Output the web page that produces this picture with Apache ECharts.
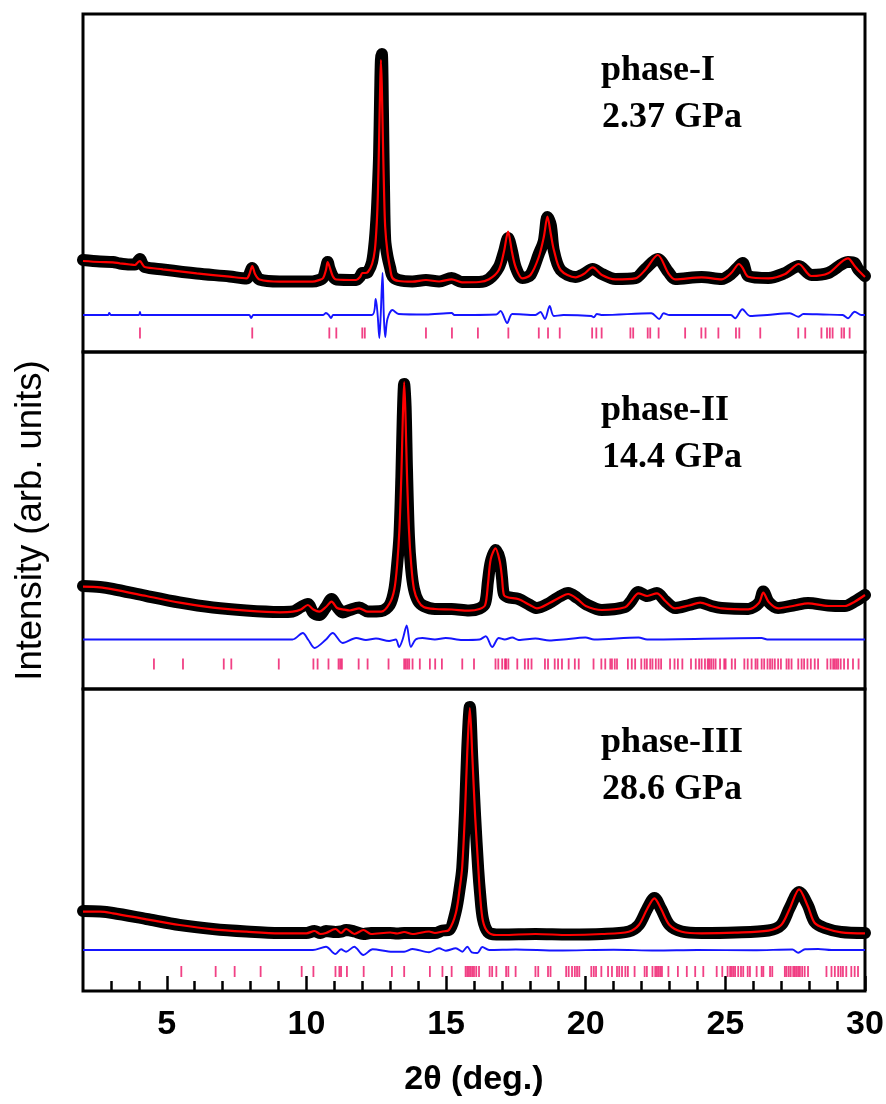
<!DOCTYPE html>
<html>
<head>
<meta charset="utf-8">
<title>Rietveld refinement at high pressure</title>
<script src="https://cdn.jsdelivr.net/npm/echarts@6/dist/echarts.min.js"></script>
<style>
  html, body { margin: 0; padding: 0; background: #fff; }
  #chart { width: 886px; height: 1104px; }
</style>
</head>
<body>
<div id="chart"></div>
<script>
// --- data ---------------------------------------------------------------
const twoThetaMin = 2
const twoThetaMax = 30
const xMajorTicks = [5, 10, 15, 20, 25, 30]
const xMinorTicks = [3, 4, 6, 7, 8, 9, 11, 12, 13, 14, 16, 17, 18, 19, 21, 22, 23, 24, 26, 27, 28, 29]

const phaseNames = ['phase-I', 'phase-II', 'phase-III']
const pressures = ['2.37 GPa', '14.4 GPa', '28.6 GPa']

// rows: [2θ, calculated, observed]  (arb. units)
const phase1Profile = [
  [2.0, 91, 92], [2.61, 90, 90.5], [3.07, 89.7, 90], [3.32, 88.7, 88.5], [3.68, 87.5, 87.5],
  [3.86, 87, 87.5], [3.96, 89.5, 90.5], [4.04, 91, 93], [4.12, 88, 88.5], [4.21, 85, 85],
  [4.86, 82.7, 82.5], [6.07, 78.7, 78.5], [7.25, 75.3, 75.5], [7.86, 73.7, 73.5], [7.96, 78, 78],
  [8.06, 86, 84], [8.16, 78, 78.5], [8.32, 72.5, 72.5], [9.04, 70.3, 70.5], [10.21, 70.3, 70.5],
  [10.46, 72, 72], [10.6, 74, 74.5], [10.7, 82, 84], [10.76, 90, 90], [10.82, 86, 84],
  [10.94, 76, 76], [11.07, 72.5, 72.5], [11.78, 72, 72], [11.92, 75, 75.5], [12.0, 79, 79],
  [12.1, 79, 79], [12.2, 80, 80], [12.35, 88, 90], [12.45, 102, 112], [12.52, 130, 140],
  [12.56, 160, 165], [12.6, 210, 195], [12.64, 265, 258], [12.667, 292, 292], [12.7, 265, 298],
  [12.74, 210, 240], [12.78, 160, 160], [12.82, 125, 112], [12.9, 100, 96], [13.0, 83, 84],
  [13.08, 74, 76], [13.3, 71, 72], [13.79, 70.3, 70.5], [14.28, 72, 72], [14.75, 70.5, 70.5],
  [15.2, 72.7, 74], [15.57, 69.7, 70], [16.18, 70, 70], [16.54, 72.7, 73], [16.89, 82, 85],
  [17.07, 100, 100], [17.22, 120.3, 114], [17.36, 100, 101], [17.49, 85, 85], [17.73, 73.7, 74],
  [18.02, 77, 77], [18.32, 95, 98], [18.5, 115, 111], [18.63, 135.3, 135], [18.75, 118, 127],
  [18.86, 102, 101], [19.1, 82, 82], [19.63, 74.7, 75], [19.93, 78, 78], [20.25, 84.7, 83],
  [20.58, 77, 78], [21.06, 72.7, 73], [21.78, 73.7, 74], [22.13, 82, 83], [22.58, 97, 93],
  [22.96, 78.7, 80], [23.2, 72.7, 73], [24.15, 74.7, 75], [24.87, 72.7, 73], [25.21, 79, 78],
  [25.49, 88, 86], [25.62, 84, 89], [25.82, 75.3, 76], [26.54, 73.7, 74], [27.14, 78, 79],
  [27.63, 88, 86], [28.08, 76, 77], [28.68, 78.7, 79], [29.39, 93.7, 90], [29.63, 86, 89],
  [29.75, 82, 83], [30.0, 75, 76]
]

const phase2Profile = [
  [2.0, 102.3, 103], [2.61, 101.7, 102], [3.07, 99.7, 100], [4.27, 93, 93], [5.46, 86.3, 86.5],
  [6.65, 81.3, 81.5], [7.85, 78.3, 78.5], [9.04, 76.7, 77], [9.51, 77.3, 77.5], [9.8, 79.5, 82],
  [10.05, 84, 85], [10.25, 79.5, 76], [10.46, 77.3, 74], [10.7, 82, 82], [10.9, 87.3, 90],
  [11.1, 81, 82], [11.3, 79.7, 76.5], [11.55, 78.5, 79], [11.89, 80.7, 81.5], [12.2, 77.3, 77.5],
  [12.68, 77.3, 78], [12.98, 85.7, 84], [13.15, 100, 100], [13.25, 125, 125], [13.33, 160, 153],
  [13.4, 215, 212], [13.45, 270, 272], [13.5, 307, 305], [13.55, 270, 283], [13.6, 215, 220],
  [13.67, 160, 153], [13.75, 125, 120], [13.85, 100, 100], [14.0, 88, 88], [14.2, 82, 83],
  [14.6, 80, 80], [15.2, 79.5, 80], [15.82, 78.3, 78.5], [16.2, 80, 80.5], [16.4, 84, 86],
  [16.5, 105, 108], [16.6, 130, 127], [16.77, 140.7, 139], [16.92, 128, 130], [17.0, 112, 112],
  [17.07, 94, 95], [17.2, 91.7, 92],
  [17.6, 89.7, 90], [18.0, 84, 84], [18.25, 80.7, 81], [18.7, 86, 86], [19.1, 92, 93],
  [19.37, 95, 96], [19.7, 90, 91], [20.0, 83, 85], [20.58, 79, 79], [21.41, 81.7, 82],
  [21.6, 87, 87], [21.89, 95.7, 97], [22.2, 93, 93], [22.55, 95.7, 96], [22.85, 88, 88],
  [23.2, 80.7, 81], [23.7, 83.5, 84], [24.1, 86.3, 86.5], [24.5, 83, 83], [24.87, 80.7, 81],
  [25.82, 79.7, 80], [26.2, 86, 86], [26.36, 96.3, 97.5], [26.55, 87, 87], [26.89, 80.7, 81],
  [27.5, 83.5, 84], [27.96, 85.7, 86], [28.68, 83, 83.5], [29.28, 83, 83], [29.63, 87.3, 87.5],
  [30.0, 94, 94]
]

const phase3Profile = [
  [2.0, 79.3, 80], [2.61, 79.3, 79.5], [3.07, 77.7, 78], [4.27, 71.7, 72], [5.46, 66, 66],
  [6.65, 61.7, 62], [7.85, 59.3, 59.5], [9.04, 57.7, 58], [10.0, 57.7, 58], [10.29, 60, 60],
  [10.5, 57, 58], [10.7, 58, 60], [11.04, 62, 59], [11.24, 58, 59.5], [11.42, 62, 61],
  [11.72, 57, 59.5], [12.04, 61, 57], [12.31, 57, 58], [13.0, 58.5, 58], [13.25, 57.5, 57.5],
  [13.5, 59, 58], [13.8, 57, 58], [14.39, 59.5, 58], [14.6, 58, 58], [14.87, 59.5, 60.5],
  [15.1, 61, 61], [15.35, 78, 80], [15.5, 105, 105], [15.58, 125, 123], [15.68, 180, 180],
  [15.76, 240, 243], [15.85, 283, 284], [15.94, 235, 232], [16.04, 175, 175], [16.15, 125, 122],
  [16.22, 95, 97], [16.32, 70, 72], [16.5, 59, 59], [16.8, 56, 56.5], [17.01, 56, 56.5],
  [18.2, 57, 57], [19.39, 56, 56.5], [20.58, 57, 57], [21.54, 59.3, 59.5], [21.9, 66, 66],
  [22.2, 82, 82], [22.46, 92.7, 93], [22.7, 82, 82], [23.0, 66, 66], [23.44, 59.3, 59.5],
  [24.15, 57.7, 58], [25.34, 58.3, 58.5], [26.54, 60.3, 60.5], [27.0, 66, 66], [27.3, 82, 83],
  [27.64, 101.7, 99], [27.95, 85, 86], [28.2, 68, 69], [28.56, 62.7, 63], [29.15, 58.7, 59],
  [30.0, 57.7, 58]
]

// difference curves (obs - calc), drawn with their offset as in the figure
const phase1Diff = [
  [2, 37], [2.9, 37], [2.94, 39], [3.0, 37], [4.0, 37], [4.04, 40], [4.08, 37], [7.95, 37],
  [8.02, 34], [8.1, 37], [10.6, 37], [10.7, 39], [10.8, 37], [10.88, 34], [10.96, 37], [12.35, 37],
  [12.48, 53], [12.55, 37], [12.61, 14], [12.66, 37], [12.725, 79], [12.77, 37], [12.82, 15],
  [12.9, 33], [13.08, 42], [13.3, 38], [14.28, 37.5], [15.2, 39], [15.3, 37], [16.8, 37.5],
  [16.95, 41], [17.19, 29], [17.37, 38], [18.2, 37], [18.38, 40], [18.54, 33], [18.71, 46],
  [18.86, 36], [19.2, 37], [20.2, 36], [20.29, 34.7], [20.4, 38], [20.6, 37], [22.35, 38.7],
  [22.63, 33], [22.79, 38.7], [23.0, 37], [25.2, 37], [25.35, 33.7], [25.61, 42.7], [25.88, 36],
  [26.5, 37], [27.31, 38.7], [27.61, 35.3], [27.79, 38], [28.5, 37.5], [29.2, 37], [29.39, 33.7],
  [29.63, 40.3], [29.87, 37], [30, 37]
]
const phase2Diff = [
  [2, 49.5], [9.5, 49.5], [9.87, 56], [10.07, 49], [10.29, 41], [10.7, 49.5], [10.94, 56],
  [11.3, 46], [11.78, 51], [12.13, 49], [12.49, 50.5], [12.96, 48], [13.2, 49.5], [13.32, 42],
  [13.45, 50], [13.59, 63.5], [13.74, 42], [13.91, 49.5], [14.15, 51], [14.6, 49.5], [14.99, 51],
  [15.58, 49], [16.2, 49.5], [16.42, 52.8], [16.65, 42], [16.89, 51], [17.1, 49.5], [17.37, 51.5],
  [17.6, 49], [18.2, 50.5], [18.7, 48.5], [19.2, 49.5], [19.99, 51.5], [20.3, 49.5], [21.89, 51.5],
  [22.2, 49.5], [26.3, 51], [26.5, 49.5], [30, 49.5]
]
const phase3Diff = [
  [2, 41], [10.23, 41], [10.7, 44.3], [11.04, 37], [11.24, 41.7], [11.42, 39.3], [11.71, 44.3],
  [12.04, 36], [12.37, 41.7], [13.08, 39.3], [13.5, 39.3], [13.8, 42], [14.39, 38.7], [14.75, 42.7],
  [14.99, 40.3], [15.35, 42.7], [15.58, 39.3], [15.76, 44.3], [15.92, 38.7], [16.12, 38], [16.3, 44],
  [16.54, 41], [17.5, 41.5], [19, 40.5], [21, 41.3], [22.5, 40.5], [24, 41], [26, 40.7], [27.4, 41.5],
  [27.61, 38.3], [27.85, 41.7], [28.32, 42], [28.8, 41], [30, 41]
]

// Bragg reflection positions (2θ)
const phase1Bragg = [4.04, 8.06, 10.82, 11.07, 12.0, 12.09, 14.28, 15.21, 16.14, 17.23, 18.32, 18.65,
  19.07, 20.23, 20.38, 20.57, 21.6, 21.7, 22.22, 22.31, 22.61, 23.56, 24.14, 24.29, 24.75, 25.38,
  25.5, 26.25, 27.61, 27.86, 28.44, 28.64, 28.74, 28.84, 29.16, 29.25, 29.45]
const phase2Bragg = [4.54, 5.58, 7.04, 7.31, 9.01, 10.25, 10.4, 10.79, 11.15, 11.21, 11.27, 11.87,
  12.19, 12.94, 13.5, 13.56, 13.62, 13.68, 13.8, 14.06, 14.42, 14.61, 14.85, 15.58, 16.0, 16.77,
  16.87, 17.01, 17.11, 17.15, 17.23, 17.55, 17.82, 17.94, 18.06, 18.54, 18.65, 18.89, 19.01, 19.15,
  19.39, 19.61, 19.75, 20.28, 20.56, 20.7, 20.88, 20.94, 21.04, 21.12, 21.51, 21.65, 21.77, 21.99,
  22.11, 22.19, 22.31, 22.39, 22.51, 22.61, 22.7, 23.02, 23.18, 23.3, 23.46, 23.77, 23.94, 24.06,
  24.15, 24.27, 24.37, 24.42, 24.49, 24.57, 24.65, 24.81, 24.96, 25.01, 25.23, 25.35, 25.68, 25.8,
  25.94, 26.08, 26.15, 26.3, 26.39, 26.51, 26.6, 26.68, 26.77, 26.89, 26.99, 27.19, 27.27, 27.37,
  27.61, 27.73, 27.82, 27.94, 28.06, 28.2, 28.32, 28.65, 28.77, 28.86, 28.92, 28.98, 29.04, 29.13,
  29.25, 29.39, 29.57, 29.77]
const phase3Bragg = [5.52, 6.75, 7.43, 8.36, 9.83, 10.25, 11.04, 11.18, 11.24, 11.45, 12.05, 13.06,
  13.5, 14.42, 14.87, 15.2, 15.7, 15.76, 15.82, 15.88, 15.94, 16.0, 16.08, 16.18, 16.56, 16.65, 16.8,
  17.15, 17.23, 17.49, 18.2, 18.3, 18.65, 18.74, 19.3, 19.39, 19.51, 19.61, 19.69, 19.77, 20.2, 20.29,
  20.37, 20.56, 20.8, 20.94, 21.12, 21.2, 21.3, 21.42, 21.51, 21.75, 22.11, 22.19, 22.39, 22.49,
  22.55, 22.61, 22.67, 22.73, 22.96, 23.3, 23.62, 23.92, 24.21, 24.69, 24.89, 25.08, 25.17, 25.23,
  25.29, 25.35, 25.46, 25.56, 25.64, 25.8, 25.88, 26.12, 26.3, 26.36, 26.6, 26.68, 27.13, 27.19,
  27.27, 27.34, 27.43, 27.49, 27.55, 27.61, 27.67, 27.75, 27.84, 27.96, 28.62, 28.8, 28.92, 29.04,
  29.13, 29.21, 29.33, 29.51, 29.63, 29.75]

// --- layout -----------------------------------------------------------------
const panels = [
  { profile: phase1Profile, diff: phase1Diff, bragg: phase1Bragg, top: 14, height: 338, yMax: 338, braggLevel: 19 },
  { profile: phase2Profile, diff: phase2Diff, bragg: phase2Bragg, top: 352, height: 337, yMax: 337, braggLevel: 25 },
  { profile: phase3Profile, diff: phase3Diff, bragg: phase3Bragg, top: 689, height: 302, yMax: 302, braggLevel: 19.5 }
]

const SANS = "'Liberation Sans', Arial, sans-serif"
const SERIF = "'Liberation Serif', 'Times New Roman', serif"

const chart = echarts.init(document.getElementById('chart'), null, { renderer: 'canvas' })

const grids = panels.map((p) => ({
  left: 83,
  right: 21,
  top: p.top,
  height: p.height,
  outerBoundsMode: 'none',
  containLabel: false,
  show: true,
  borderColor: '#000',
  borderWidth: 3,
  backgroundColor: 'transparent'
}))

const xAxes = panels.map((p, i) => {
  const base = { gridIndex: i, type: 'value', min: twoThetaMin, max: twoThetaMax, splitLine: { show: false } }
  if (i < 2) return { ...base, show: false }
  return {
    ...base,
    position: 'bottom',
    axisLine: { show: false },
    axisTick: { inside: true, length: 15, customValues: xMajorTicks, lineStyle: { color: '#000', width: 2.5 } },
    axisLabel: {
      customValues: xMajorTicks,
      margin: 17,
      color: '#000',
      fontSize: 34,
      fontWeight: 'bold',
      fontFamily: SANS
    },
    name: '2θ (deg.)',
    nameLocation: 'middle',
    nameGap: 72,
    nameTextStyle: { color: '#000', fontSize: 34, fontWeight: 'bold', fontFamily: SANS }
  }
})
// minor ticks on the bottom axis
xAxes.push({
  gridIndex: 2,
  type: 'value',
  min: twoThetaMin,
  max: twoThetaMax,
  position: 'bottom',
  axisLine: { show: false },
  axisTick: { inside: true, length: 10, customValues: xMinorTicks, lineStyle: { color: '#000', width: 2.5 } },
  axisLabel: { show: false },
  splitLine: { show: false }
})

const yAxes = panels.map((p, i) => ({
  gridIndex: i,
  type: 'value',
  min: 0,
  max: p.yMax,
  axisLine: { show: false },
  axisTick: { show: false },
  axisLabel: { show: false },
  splitLine: { show: false },
  name: i === 1 ? 'Intensity (arb. units)' : '',
  nameLocation: 'middle',
  nameGap: 34,
  nameRotate: 90,
  nameTextStyle: { color: '#000', fontSize: 36.5, fontFamily: SANS }
}))

const series = []
panels.forEach((p, i) => {
  const common = {
    type: 'line',
    xAxisIndex: i,
    yAxisIndex: i,
    showSymbol: false,
    symbol: 'none',
    smooth: 0.3,
    silent: true
  }
  series.push({
    ...common,
    name: 'observed',
    data: p.profile.map((r) => [r[0], r[2]]),
    lineStyle: { color: '#000', width: 12, cap: 'round', join: 'round' },
    z: 2
  })
  series.push({
    ...common,
    name: 'calculated',
    data: p.profile.map((r) => [r[0], r[1]]),
    lineStyle: { color: '#ff0000', width: 2.2 },
    z: 3
  })
  series.push({
    ...common,
    name: 'difference',
    data: p.diff,
    lineStyle: { color: '#1515ff', width: 1.9 },
    z: 3
  })
  series.push({
    type: 'scatter',
    name: 'Bragg',
    xAxisIndex: i,
    yAxisIndex: i,
    silent: true,
    symbol: 'rect',
    symbolSize: [1.8, 11],
    itemStyle: { color: '#ee1166' },
    data: p.bragg.map((x) => [x, p.braggLevel]),
    z: 3
  })
})

const labelTops = [71, 410.7, 743]
const graphic = []
panels.forEach((p, i) => {
  graphic.push({
    type: 'text',
    x: 601,
    y: labelTops[i],
    silent: true,
    style: { text: phaseNames[i], fill: '#000', font: 'bold 36px ' + SERIF, align: 'left', verticalAlign: 'middle' }
  })
  graphic.push({
    type: 'text',
    x: 602,
    y: labelTops[i] + 47,
    silent: true,
    style: { text: pressures[i], fill: '#000', font: 'bold 36px ' + SERIF, align: 'left', verticalAlign: 'middle' }
  })
})

chart.setOption({
  animation: false,
  backgroundColor: '#fff',
  grid: grids,
  xAxis: xAxes,
  yAxis: yAxes,
  series,
  graphic
})
</script>
</body>
</html>
